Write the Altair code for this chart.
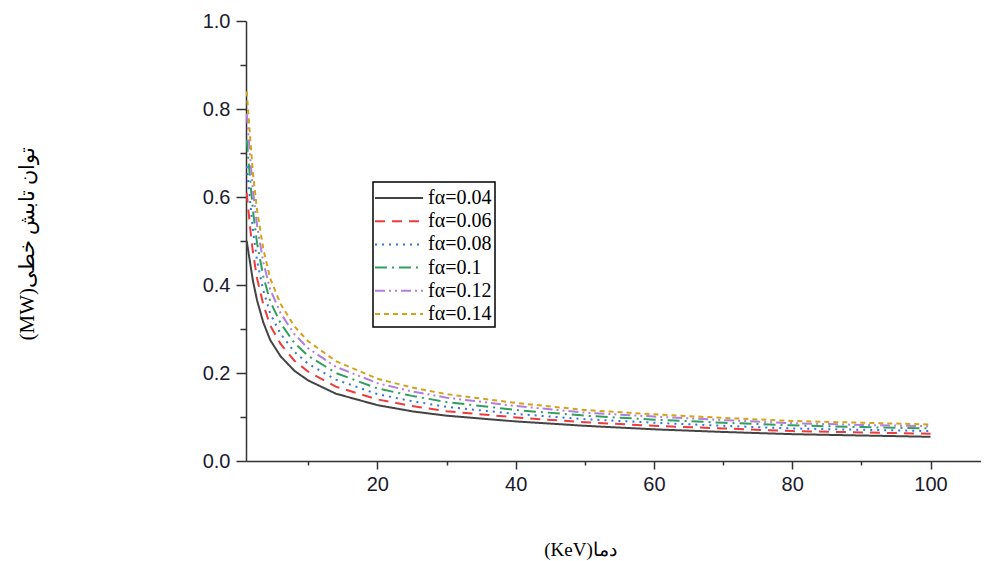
import altair as alt
import pandas as pd

# Temperature (KeV) sample points
T = [1.1, 1.6, 2, 2.6, 3.5, 4.5, 6, 8, 10, 14, 20, 25, 30, 40, 50, 60, 70, 80, 90, 100]

# Linear radiation power (MW), one list per f_alpha
p_004 = [0.50, 0.45, 0.41, 0.365, 0.315, 0.275, 0.238, 0.205, 0.183, 0.153, 0.127, 0.113, 0.103, 0.090, 0.080, 0.072, 0.066, 0.061, 0.058, 0.055]
p_006 = [0.61, 0.53, 0.475, 0.415, 0.356, 0.308, 0.266, 0.228, 0.203, 0.169, 0.140, 0.125, 0.113, 0.099, 0.088, 0.080, 0.074, 0.068, 0.065, 0.062]
p_008 = [0.67, 0.59, 0.525, 0.455, 0.388, 0.335, 0.289, 0.248, 0.221, 0.185, 0.152, 0.136, 0.123, 0.107, 0.095, 0.087, 0.080, 0.074, 0.071, 0.068]
p_010 = [0.73, 0.64, 0.57, 0.495, 0.42, 0.363, 0.313, 0.268, 0.239, 0.200, 0.165, 0.148, 0.134, 0.116, 0.103, 0.094, 0.087, 0.081, 0.077, 0.074]
p_012 = [0.79, 0.69, 0.615, 0.535, 0.452, 0.39, 0.336, 0.288, 0.256, 0.214, 0.177, 0.158, 0.144, 0.125, 0.110, 0.101, 0.093, 0.086, 0.082, 0.079]
p_014 = [0.84, 0.735, 0.655, 0.57, 0.482, 0.415, 0.357, 0.306, 0.272, 0.227, 0.187, 0.167, 0.152, 0.132, 0.116, 0.106, 0.098, 0.091, 0.087, 0.083]

series_names = ["fα=0.04", "fα=0.06", "fα=0.08", "fα=0.1", "fα=0.12", "fα=0.14"]
series_values = [p_004, p_006, p_008, p_010, p_012, p_014]
colors = ["#444444", "#ef3b3b", "#2f74e0", "#2ea05a", "#b27ee0", "#d4a21a"]
dashes = [[1, 0], [10, 7], [2, 5], [12, 5, 2, 5], [10, 4, 2, 4, 2, 4], [5, 4]]

x_major = [20, 40, 60, 80, 100]
x_minor = [10, 30, 50, 70, 90]
y_major = [0.0, 0.2, 0.4, 0.6, 0.8, 1.0]
y_minor = [0.1, 0.3, 0.5, 0.7, 0.9]

rows = []
for name, vals in zip(series_names, series_values):
    for t, v in zip(T, vals):
        rows.append({"T": t, "P": v, "s": name})
df = pd.DataFrame(rows)

xscale = alt.Scale(domain=[1, 107.3], nice=False, zero=False)
yscale = alt.Scale(domain=[0, 1], nice=False)

lines = alt.Chart(df).mark_line(strokeWidth=2, clip=True).encode(
    x=alt.X("T:Q", scale=xscale, axis=alt.Axis(
        orient="bottom", values=x_major, tickSize=8, tickWidth=1.5, tickColor="#333",
        domainColor="#333", domainWidth=1.5, labelFont="Liberation Sans", labelFontSize=20,
        labelColor="#1a1a2e", labelPadding=5, grid=False,
        title="(KeV)دما", titleFont="Liberation Serif", titleFontSize=19, titleFontWeight="normal",
        titleColor="#000", titleX=334, titleY=88, titleBaseline="middle",
        titleAlign="center")),
    y=alt.Y("P:Q", scale=yscale, axis=alt.Axis(
        orient="left", values=y_major, format=".1f", tickSize=10, tickWidth=1.5, tickColor="#333",
        domainColor="#333", domainWidth=1.5, labelFont="Liberation Sans", labelFontSize=20,
        labelColor="#1a1a2e", labelPadding=6, grid=False,
        title="(MW)توان تابش خطی", titleFont="Liberation Serif", titleFontSize=21,
        titleFontWeight="normal", titleColor="#000", titleX=-219, titleY=222,
        titleBaseline="middle", titleAlign="center", titleAngle=270)),
    color=alt.Color("s:N", scale=alt.Scale(domain=series_names, range=colors), legend=alt.Legend(
        title=None, orient="none", legendX=127, legendY=161, symbolType="M-2,0L2,0",
        symbolSize=576, symbolStrokeWidth=2, symbolOffset=10, labelFont="Liberation Serif",
        labelFontSize=20, labelColor="#000", strokeColor="#000", fillColor="#fff", padding=3,
        labelOffset=16, rowPadding=0.2, cornerRadius=0)),
    strokeDash=alt.StrokeDash("s:N", scale=alt.Scale(domain=series_names, range=dashes), legend=None),
)

minor = alt.Chart(df).mark_point(opacity=0).encode(
    x=alt.X("T:Q", scale=xscale, axis=alt.Axis(
        orient="bottom", values=x_minor, tickSize=4, tickWidth=1.5, tickColor="#333",
        labels=False, domain=False, grid=False, title=None)),
    y=alt.Y("P:Q", scale=yscale, axis=alt.Axis(
        orient="left", values=y_minor, tickSize=6, tickWidth=1.5, tickColor="#333",
        labels=False, domain=False, grid=False, title=None)),
)

chart = alt.layer(lines, minor).resolve_axis(x="independent", y="independent").properties(
    width=735, height=440,
    autosize=alt.AutoSizeParams(type="none"),
    padding={"left": 238, "top": 13, "right": 0, "bottom": 100},
).configure_view(stroke=None).configure_legend(strokeWidth=1.5)

chart.save("out.html", embed_options={"renderer": "svg", "actions": False})
